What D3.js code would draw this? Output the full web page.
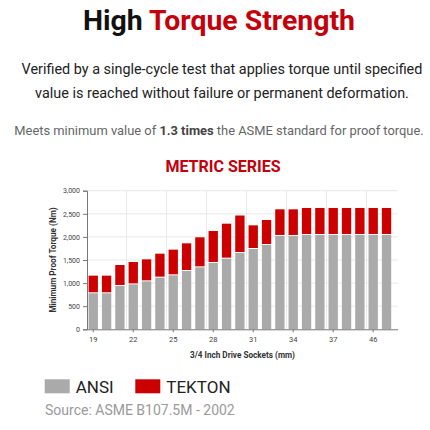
<!DOCTYPE html>
<html><head><meta charset="utf-8">
<script src="https://cdn.jsdelivr.net/npm/d3@7"></script>
<style>
html,body{margin:0;padding:0;background:#fff;}
svg{display:block;font-family:Roboto,"Noto Sans",sans-serif;}
</style></head>
<body>
<svg id="c" width="430" height="430"></svg>
<script>
const sockets = ["19","20","21","22","23","24","25","26","27","28","29","30","31","32","33","34","35","36","37","38","41","46","50"];
const ansi    = [779,779,937,973,1038,1118,1168,1262,1341,1435,1529,1650,1738,1825,2019,2019,2041,2041,2041,2041,2041,2041,2041];
const tekton  = [1161,1161,1392,1457,1514,1637,1724,1861,1991,2128,2286,2463,2250,2366,2597,2597,2626,2626,2626,2626,2626,2626,2626];
const yTicks  = [0,500,1000,1500,2000,2500,3000];
const xLabelEvery = 3;
const seriesNames = ["ANSI","TEKTON"];
const colors = {ANSI:"#aaaaaa", TEKTON:"#cc0000"};

(function(){
const svg = d3.select("#c");
const red = "#c4000a";

const t = svg.append("text").attr("x",219).attr("y",30).attr("text-anchor","middle")
  .attr("font-size",28.4).attr("font-weight",700);
t.append("tspan").attr("fill","#111").text("High ");
t.append("tspan").attr("fill",red).text("Torque Strength");

svg.append("text").attr("x",222).attr("y",74).attr("text-anchor","middle")
  .attr("font-size",14.4).attr("fill","#222").text("Verified by a single-cycle test that applies torque until specified");
svg.append("text").attr("x",222).attr("y",98).attr("text-anchor","middle")
  .attr("font-size",14.4).attr("fill","#222").text("value is reached without failure or permanent deformation.");

const m = svg.append("text").attr("x",219).attr("y",135).attr("text-anchor","middle")
  .attr("font-size",12.9).attr("fill","#666");
m.append("tspan").text("Meets minimum value of ");
m.append("tspan").attr("font-weight",700).attr("fill","#444").text("1.3 times");
m.append("tspan").text(" the ASME standard for proof torque.");

svg.append("text").attr("x",223).attr("y",172).attr("text-anchor","middle")
  .attr("font-size",16).attr("font-weight",700).attr("fill",red).text("METRIC SERIES");

const pL=87, pR=398, pT=190.7, pB=329.3;
const x = d3.scaleBand().domain(sockets).range([pL,pR])
  .paddingInner(0.3).paddingOuter(0.315).align(0.19);
const y = d3.scaleLinear().domain([0,3000]).range([pB,pT]);

const g = svg.append("g");
g.selectAll(".hg").data(yTicks.slice(1)).join("line")
  .attr("x1",pL).attr("x2",pR).attr("y1",d=>y(d)).attr("y2",d=>y(d))
  .attr("stroke","#e8e8e8").attr("stroke-width",1);
const gap = x.step()*x.paddingInner()/2;
const vIdx = sockets.map((s,i)=>i).filter(i=>i>0 && i%xLabelEvery===0);
g.selectAll(".vg").data(vIdx).join("line")
  .attr("x1",i=>x(sockets[i])-gap).attr("x2",i=>x(sockets[i])-gap)
  .attr("y1",pT).attr("y2",pB)
  .attr("stroke","#e8e8e8").attr("stroke-width",1);

const rows = sockets.map((s,i)=>({s, a:ansi[i], t:tekton[i]}));
g.selectAll(".ba").data(rows).join("rect")
  .attr("x",d=>x(d.s)).attr("width",x.bandwidth())
  .attr("y",d=>y(d.a)).attr("height",d=>y(0)-y(d.a))
  .attr("fill",colors.ANSI);
g.selectAll(".bt").data(rows).join("rect")
  .attr("x",d=>x(d.s)).attr("width",x.bandwidth())
  .attr("y",d=>y(d.t)).attr("height",d=>y(d.a)-y(d.t)-1)
  .attr("fill",colors.TEKTON);

const ya = svg.append("g").attr("transform",`translate(${pL},0)`)
  .call(d3.axisLeft(y).tickValues(yTicks).tickFormat(d3.format(",")).tickSize(4).tickPadding(3));
ya.select(".domain").attr("stroke","#777");
ya.selectAll(".tick line").attr("stroke","#777");
ya.selectAll("text").attr("font-size",7).attr("fill","#444").attr("font-family","Roboto,sans-serif");

const xa = svg.append("g").attr("transform",`translate(0,${pB})`)
  .call(d3.axisBottom(x).tickValues(sockets.filter((s,i)=>i%xLabelEvery===0)).tickSize(3).tickPadding(4).tickSizeOuter(0));
xa.select(".domain").attr("stroke","#777").attr("d",`M${pL},0.5H${pR}`);
xa.selectAll(".tick line").attr("stroke","#777");
xa.selectAll("text").attr("font-size",7.5).attr("fill","#444").attr("font-family","Roboto,sans-serif");

svg.append("text").attr("x",(pL+pR)/2).attr("y",358.3).attr("text-anchor","middle")
  .attr("font-size",8.2).attr("font-weight",700).attr("fill","#333").text("3/4 Inch Drive Sockets (mm)");
svg.append("text").attr("transform",`translate(56,${(pT+pB)/2}) rotate(-90)`).attr("text-anchor","middle")
  .attr("font-size",8.2).attr("font-weight",700).attr("fill","#333").text("Minimum Proof Torque (Nm)");

const legX = [44.7, 135.3];
seriesNames.forEach((n,i)=>{
  svg.append("rect").attr("x",legX[i]).attr("y",379.3).attr("width",25).attr("height",14).attr("fill",colors[n]);
  svg.append("text").attr("x",legX[i]+31).attr("y",392.5).attr("font-size",17).attr("fill","#222").text(n);
});
svg.append("text").attr("x",45).attr("y",414.5).attr("font-size",14).attr("fill","#9a9a9a").text("Source: ASME B107.5M - 2002");
})();
</script>
</body></html>
